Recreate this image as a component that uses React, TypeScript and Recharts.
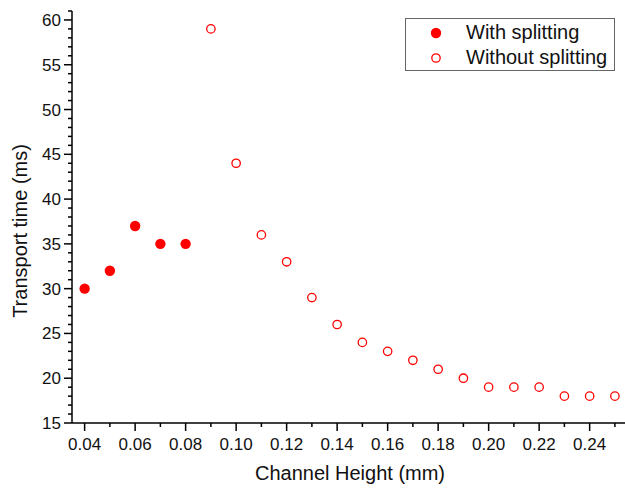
import React from "react";
import { ScatterChart, Scatter, XAxis, YAxis } from "recharts";

// channel height (mm) vs transport time (ms)
const withSplitX = [0.04, 0.05, 0.06, 0.07, 0.08];
const withSplitY = [30, 32, 37, 35, 35];

const withoutSplitX = [0.09, 0.1, 0.11, 0.12, 0.13, 0.14, 0.15, 0.16, 0.17, 0.18, 0.19, 0.2, 0.21, 0.22, 0.23, 0.24, 0.25];
const withoutSplitY = [59, 44, 36, 33, 29, 26, 24, 23, 22, 21, 20, 19, 19, 19, 18, 18, 18];

const xMajorTicks = [0.04, 0.06, 0.08, 0.1, 0.12, 0.14, 0.16, 0.18, 0.2, 0.22, 0.24];
const xMinorTicks = [0.05, 0.07, 0.09, 0.11, 0.13, 0.15, 0.17, 0.19, 0.21, 0.23, 0.25];
const yMajorTicks = [15, 20, 25, 30, 35, 40, 45, 50, 55, 60];
const yMinorTicks = [
  16, 17, 18, 19, 21, 22, 23, 24, 26, 27, 28, 29, 31, 32, 33, 34, 36, 37, 38, 39,
  41, 42, 43, 44, 46, 47, 48, 49, 51, 52, 53, 54, 56, 57, 58, 59, 61,
];

const withSplitData = withSplitX.map((x, i) => ({ x, y: withSplitY[i] }));
const withoutSplitData = withoutSplitX.map((x, i) => ({ x, y: withoutSplitY[i] }));

const FONT = '"Liberation Sans", Arial, sans-serif';
const RED = "#ff0000";

const isMajor = (list: number[], v: number) => list.some((m) => Math.abs(m - v) < 1e-6);

const XTick = (props: any) => {
  const { x, y, payload } = props;
  const major = isMajor(xMajorTicks, payload.value);
  return (
    <g>
      <line x1={x} y1={y} x2={x} y2={y + (major ? 8 : 4)} stroke="#000" strokeWidth={1.5} />
      {major && (
        <text x={x} y={y + 27} textAnchor="middle" fontSize={17} fontFamily={FONT} fill="#111">
          {payload.value.toFixed(2)}
        </text>
      )}
    </g>
  );
};

const YTick = (props: any) => {
  const { x, y, payload } = props;
  const major = isMajor(yMajorTicks, payload.value);
  return (
    <g>
      <line x1={x} y1={y} x2={x - (major ? 8 : 4)} y2={y} stroke="#000" strokeWidth={1.5} />
      {major && (
        <text x={x - 11} y={y + 6} textAnchor="end" fontSize={17} fontFamily={FONT} fill="#111">
          {payload.value}
        </text>
      )}
    </g>
  );
};

const FilledDot = (props: any) => <circle cx={props.cx} cy={props.cy} r={5.2} fill={RED} />;
const OpenDot = (props: any) => (
  <circle cx={props.cx} cy={props.cy} r={4.2} fill="none" stroke={RED} strokeWidth={1.3} />
);

const legendItems = [
  { name: "With splitting", filled: true },
  { name: "Without splitting", filled: false },
];

const LegendBox = () => (
  <div
    style={{
      position: "absolute",
      left: 405,
      top: 18,
      border: "1.5px solid #666",
      background: "#fff",
      width: 210,
      height: 53,
      fontFamily: FONT,
      fontSize: 20,
      color: "#111",
      boxSizing: "border-box",
      paddingTop: 1,
    }}
  >
    {legendItems.map((item) => (
      <div key={item.name} style={{ display: "flex", alignItems: "center", height: 25 }}>
        <svg width={60} height={25}>
          {item.filled ? (
            <circle cx={30} cy={13} r={5.2} fill={RED} />
          ) : (
            <circle cx={30} cy={13} r={4.2} fill="none" stroke={RED} strokeWidth={1.3} />
          )}
        </svg>
        <span style={{ lineHeight: "25px" }}>{item.name}</span>
      </div>
    ))}
  </div>
);

export default function App() {
  return (
    <div style={{ position: "absolute", left: 0, top: 0, width: 625, height: 489, background: "#fff" }}>
      <ScatterChart width={625} height={489} margin={{ top: 11, right: 0, bottom: 0, left: 0 }}>
        <XAxis
          type="number"
          dataKey="x"
          domain={[0.035, 0.254]}
          allowDataOverflow
          ticks={[...xMajorTicks, ...xMinorTicks].sort((a, b) => a - b)}
          interval={0}
          tick={<XTick />}
          tickLine={false}
          tickSize={0}
          tickMargin={0}
          axisLine={{ stroke: "#000", strokeWidth: 1.5 }}
          height={66}
          label={{
            content: () => (
              <text x={350} y={480} textAnchor="middle" fontSize={20} fontFamily={FONT} fill="#111">
                Channel Height (mm)
              </text>
            ),
          }}
        />
        <YAxis
          type="number"
          dataKey="y"
          domain={[15, 61]}
          allowDataOverflow
          ticks={[...yMajorTicks, ...yMinorTicks].sort((a, b) => a - b)}
          interval={0}
          tick={<YTick />}
          tickLine={false}
          tickSize={0}
          tickMargin={0}
          axisLine={{ stroke: "#000", strokeWidth: 1.5 }}
          width={72}
          label={{
            content: () => (
              <text
                x={27}
                y={231}
                transform="rotate(-90 27 231)"
                textAnchor="middle"
                fontSize={20}
                fontFamily={FONT}
                fill="#111"
              >
                Transport time (ms)
              </text>
            ),
          }}
        />
        <Scatter name="With splitting" data={withSplitData} shape={<FilledDot />} isAnimationActive={false} />
        <Scatter name="Without splitting" data={withoutSplitData} shape={<OpenDot />} isAnimationActive={false} />
      </ScatterChart>
      <LegendBox />
    </div>
  );
}
